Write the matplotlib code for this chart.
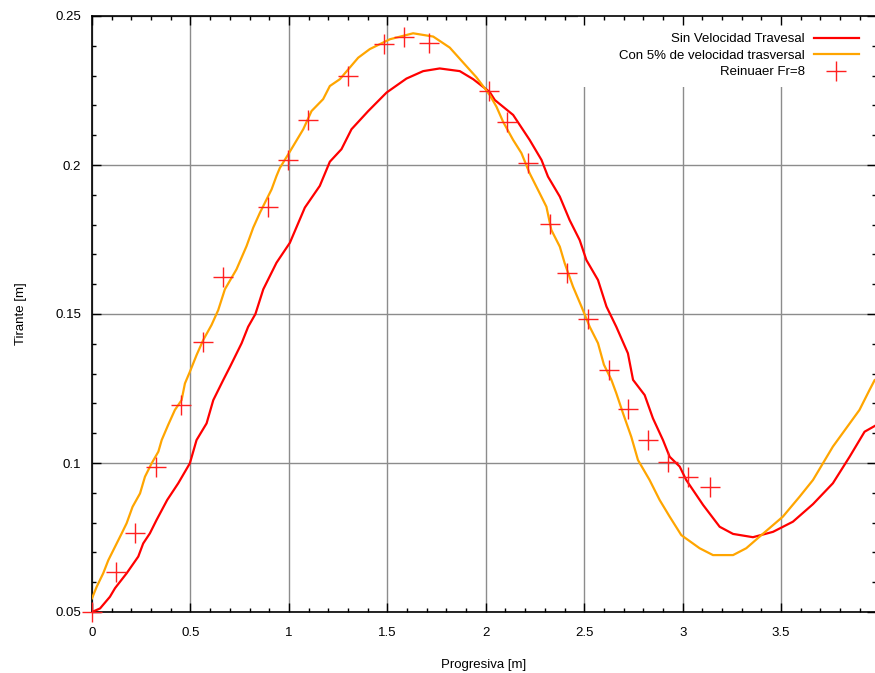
import matplotlib
matplotlib.use("Agg")
import matplotlib.pyplot as plt
from matplotlib.ticker import MultipleLocator, FuncFormatter
from matplotlib.patches import Rectangle

plt.rcParams['font.family'] = ['Liberation Sans', 'DejaVu Sans']

# Sin Velocidad Travesal (red)
red_x = [0.0, 0.041, 0.091, 0.117, 0.176, 0.235, 0.26, 0.294, 0.328, 0.382, 0.438, 0.497,
         0.531, 0.582, 0.616, 0.667, 0.701, 0.760, 0.793, 0.830, 0.870, 0.937, 1.005,
         1.081, 1.157, 1.208, 1.267, 1.318, 1.403, 1.496, 1.597, 1.682, 1.766, 1.868,
         1.936, 2.02, 2.046, 2.139, 2.223, 2.283, 2.316, 2.376, 2.426, 2.477, 2.511,
         2.570, 2.613, 2.663, 2.722, 2.748, 2.807, 2.849, 2.9, 2.934, 2.985, 3.018,
         3.104, 3.188, 3.256, 3.357, 3.459, 3.560, 3.662, 3.763, 3.848, 3.924, 3.975]
red_y = [0.05, 0.0512, 0.0551, 0.058, 0.063, 0.0686, 0.073, 0.0764, 0.0809, 0.0876, 0.0932, 0.0999,
         0.1077, 0.1133, 0.1211, 0.1279, 0.1323, 0.1402, 0.1457, 0.1500, 0.1583, 0.1672, 0.1739,
         0.1857, 0.193, 0.2011, 0.2053, 0.212, 0.2181, 0.2243, 0.229, 0.2315, 0.2324, 0.2315,
         0.2288, 0.2245, 0.2218, 0.2168, 0.2084, 0.2017, 0.1961, 0.1894, 0.1815, 0.1748, 0.1681,
         0.1614, 0.1525, 0.1457, 0.1368, 0.1279, 0.1228, 0.115, 0.1077, 0.1021, 0.0988, 0.0943,
         0.0859, 0.0786, 0.0762, 0.0751, 0.0769, 0.0803, 0.0862, 0.0932, 0.1021, 0.1105, 0.1124]

# Con 5% de velocidad trasversal (orange)
ora_x = [0.0, 0.024, 0.057, 0.083, 0.117, 0.151, 0.176, 0.206, 0.244, 0.269, 0.303, 0.337,
         0.354, 0.387, 0.421, 0.455, 0.472, 0.497, 0.531, 0.565, 0.607, 0.641, 0.675,
         0.734, 0.785, 0.819, 0.853, 0.912, 0.937, 0.954, 1.005, 1.073, 1.115, 1.174,
         1.208, 1.259, 1.352, 1.411, 1.513, 1.631, 1.733, 1.817, 1.893, 1.953, 2.02,
         2.054, 2.088, 2.139, 2.181, 2.223, 2.274, 2.308, 2.333, 2.376, 2.401, 2.443,
         2.486, 2.528, 2.570, 2.600, 2.638, 2.663, 2.697, 2.739, 2.773, 2.832, 2.883,
         2.934, 2.993, 3.086, 3.154, 3.256, 3.323, 3.391, 3.509, 3.594, 3.662, 3.763,
         3.898, 3.949, 3.975]
ora_y = [0.0546, 0.0585, 0.063, 0.0674, 0.0719, 0.0764, 0.0798, 0.0853, 0.0898, 0.0954, 0.0999, 0.1038,
         0.1077, 0.1128, 0.1178, 0.1211, 0.1267, 0.1306, 0.1362, 0.1413, 0.1463, 0.1513, 0.1583,
         0.1650, 0.1728, 0.1790, 0.1840, 0.1918, 0.1963, 0.1990, 0.2045, 0.212, 0.2181, 0.2221,
         0.2265, 0.2288, 0.236, 0.2389, 0.2422, 0.2442, 0.2431, 0.2394, 0.2338, 0.2294, 0.2235,
         0.2196, 0.2145, 0.2084, 0.204, 0.1972, 0.1905, 0.1860, 0.1782, 0.1726, 0.1670, 0.1592,
         0.1525, 0.1457, 0.1402, 0.1330, 0.1279, 0.1234, 0.1167, 0.1088, 0.1010, 0.0943, 0.0876,
         0.0820, 0.0758, 0.0714, 0.0691, 0.0691, 0.0714, 0.0753, 0.0820, 0.0887, 0.0943, 0.1055,
         0.1178, 0.1245, 0.1278]

# Reinuaer Fr=8 (points)
rein_x = [0.0, 0.12, 0.218, 0.325, 0.450, 0.565, 0.667, 0.895, 0.997, 1.098, 1.298, 1.481,
          1.584, 1.714, 2.018, 2.108, 2.215, 2.325, 2.415, 2.519, 2.624, 2.721, 2.823,
          2.925, 3.026, 3.137]
rein_y = [0.05, 0.0635, 0.0765, 0.0987, 0.1194, 0.1407, 0.1625, 0.186, 0.2017, 0.215, 0.2298, 0.2406,
          0.2430, 0.2409, 0.2248, 0.2143, 0.2008, 0.1801, 0.1637, 0.1483, 0.1312, 0.1180, 0.1077,
          0.1004, 0.0953, 0.0921]

labels = ["Sin Velocidad Travesal", "Con 5% de velocidad trasversal", "Reinuaer Fr=8"]

XLIM = (0, 3.982)
YLIM = (0.05, 0.25)
pos = [92/875, 1-612/673, 784/875, 596/673]

fig = plt.figure(figsize=(8.75, 6.73), dpi=100)

# background axes carrying only the grid
axg = fig.add_axes(pos, zorder=0)
axg.set_xlim(*XLIM)
axg.set_ylim(*YLIM)
axg.xaxis.set_major_locator(MultipleLocator(0.5))
axg.yaxis.set_major_locator(MultipleLocator(0.05))
axg.grid(True, which='major', color='#8c8c8c', lw=1.0)
axg.tick_params(which='both', length=0, labelbottom=False, labelleft=False)
for s in axg.spines.values():
    s.set_visible(False)

ax = fig.add_axes(pos, zorder=1)
ax.patch.set_visible(False)

# white key background hiding the grid behind the legend
ax.add_patch(Rectangle((0.62, 0.881), 0.38, 0.119, transform=ax.transAxes,
                       facecolor='white', edgecolor='none', zorder=0.1))

ax.plot(red_x, red_y, color='#ff0000', lw=1.6, label=labels[0], zorder=3)
ax.plot(ora_x, ora_y, color='#ffa500', lw=1.6, label=labels[1], zorder=3)
ax.plot(rein_x, rein_y, ls='none', marker='+', ms=15, mew=1.0, color='#ff2020',
        label=labels[2], zorder=4, clip_on=False)

ax.set_xlim(*XLIM)
ax.set_ylim(*YLIM)
ax.xaxis.set_major_locator(MultipleLocator(0.5))
ax.xaxis.set_minor_locator(MultipleLocator(0.1))
ax.yaxis.set_major_locator(MultipleLocator(0.05))
ax.yaxis.set_minor_locator(MultipleLocator(0.01))
ax.xaxis.set_major_formatter(FuncFormatter(lambda v, p: f"{v:g}"))
ax.yaxis.set_major_formatter(FuncFormatter(lambda v, p: f"{v:g}"))

ax.tick_params(which='both', direction='in', top=True, right=True, width=1.0, colors='black',
               labelsize=9.5)
ax.tick_params(which='major', length=6.5)
ax.tick_params(which='minor', length=3.2)
ax.tick_params(axis='x', which='major', pad=11)
ax.tick_params(axis='y', which='major', pad=8)

for s in ax.spines.values():
    s.set_linewidth(1.2)
    s.set_color('black')

ax.set_xlabel("Progresiva [m]", fontsize=9.5, labelpad=14)
ax.set_ylabel("Tirante [m]", fontsize=9.5, labelpad=20)

leg = ax.legend(loc='upper right', markerfirst=False, frameon=False, fontsize=9.5,
                handlelength=3.4, borderaxespad=0.8, labelspacing=0.32,
                handletextpad=0.7, borderpad=0.5)
leg.set_zorder(5)

fig.savefig("out.png", dpi=100)
